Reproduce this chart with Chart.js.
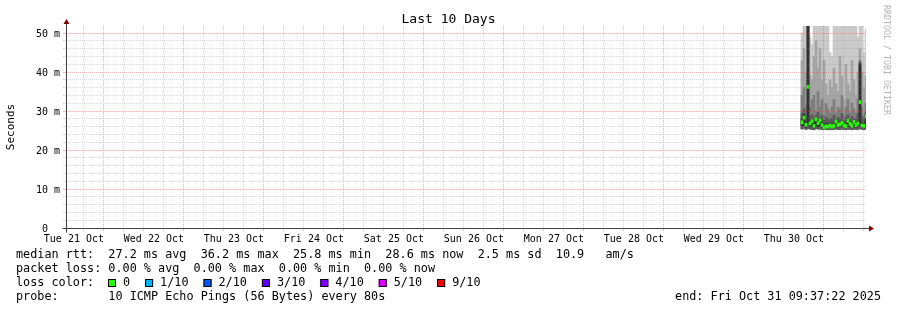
<!DOCTYPE html>
<html>
<head>
<meta charset="utf-8">
<script src="https://cdn.jsdelivr.net/npm/chart.js@4.4.0/dist/chart.umd.min.js"></script>
<style>
  html, body { margin: 0; padding: 0; background: #fff; }
  canvas { display: block; }
</style>
</head>
<body>
<canvas id="smokeChart" width="897" height="310"></canvas>
<script>
// time axis: hours since Tue 21 Oct 09:37:22, graph covers 10 days
const rangeHours = 240;
const firstNoonHour = 2.3772;
const firstColumnHour = 220.8;
const columnStep = 0.6;

const dayLabels = ['Tue 21 Oct', 'Wed 22 Oct', 'Thu 23 Oct', 'Fri 24 Oct', 'Sat 25 Oct',
                   'Sun 26 Oct', 'Mon 27 Oct', 'Tue 28 Oct', 'Wed 29 Oct', 'Thu 30 Oct'];

// rtt in ms, one value per column (sorted pings -> smoke bands)
const pingLowest = [25.4, 25.6, 25.3, 25.5, 25.4, 25.3, 25.2, 25.5, 25.4, 25.4, 25.3, 25.2, 25.3, 25.2, 25.3, 25.2, 25.3,
                    25.4, 25.3, 25.3, 25.4, 25.3, 25.2, 25.4, 25.3, 25.2, 25.4, 25.3, 25.3, 25.5, 25.3, 25.2, 25.5];
const pingLow = [26.2, 26.4, 25.9, 26.5, 26.0, 26.1, 25.8, 26.3, 26.0, 26.2, 25.9, 25.6, 25.8, 25.7, 25.9, 25.7, 25.8,
                 26.1, 25.9, 26.0, 26.1, 25.9, 25.8, 26.2, 26.0, 25.8, 26.1, 25.9, 26.0, 26.6, 25.9, 25.8, 26.3];
const ping6 = [28.0, 29.2, 27.2, 55, 27.4, 27.9, 27.0, 28.3, 27.7, 28.0, 27.1, 26.5, 26.8, 26.7, 26.9, 26.6, 26.8,
               27.7, 27.0, 27.2, 27.5, 26.9, 26.7, 27.9, 27.2, 26.8, 27.6, 27.0, 27.3, 42.0, 26.9, 26.8, 29.0];
const ping7 = [29.5, 30.5, 28.2, 55, 28.3, 29, 28.2, 28.8, 29.6, 28.3, 28.8, 27.6, 28.4, 27.9, 27.8, 28.2, 28.9,
               27.8, 28.4, 28.0, 29.3, 27.6, 28.3, 29.0, 27.8, 28.6, 27.9, 28.1, 29.4, 42.5, 28.5, 27.7, 29.6];
const ping8 = [34, 36, 31.5, 55, 31, 33, 34, 30, 35, 31, 33, 29, 32, 30.5, 29.5, 31, 33,
               29.5, 31, 30.5, 34, 29, 31, 33, 29.5, 32, 30.5, 29.5, 33, 43, 31, 29, 32];
const ping9 = [43, 46, 40, 55, 39, 38, 44, 48, 41, 46, 38, 43, 37, 34, 38, 36, 41,
               37, 35, 44, 39, 33, 42, 37, 35, 43, 38, 34, 40, 46, 40, 36, 39];
const pingHighest = [50, 55, 55, 55, 49, 47, 55, 55, 55, 55, 55, 55, 55, 55, 45, 44, 55,
                     55, 55, 55, 55, 55, 55, 55, 55, 55, 55, 55, 49, 55, 55, 45, 51];
const medianRtt = [27.1, 28.3, 26.5, 36.2, 26.8, 27.4, 26.2, 27.9, 26.9, 27.6, 26.4, 25.8, 26.1, 26.0, 26.3, 26.0, 26.2,
                   27.3, 26.4, 26.6, 27.0, 26.3, 26.1, 27.5, 26.7, 26.2, 27.2, 26.4, 26.8, 32.3, 26.3, 26.2, 28.6];

const lossLabels = ['0', '1/10', '2/10', '3/10', '4/10', '5/10', '9/10'];
const lossColors = ['#26ff00', '#00b8ff', '#0059ff', '#5e00ff', '#7e00ff', '#dd00ff', '#ff0000'];

const rttLine = 'median rtt:  27.2 ms avg  36.2 ms max  25.8 ms min  28.6 ms now  2.5 ms sd  10.9   am/s';
const lossLine = 'packet loss: 0.00 % avg  0.00 % max  0.00 % min  0.00 % now';
const probeLine = 'probe:       10 ICMP Echo Pings (56 Bytes) every 80s';
const endLine = 'end: Fri Oct 31 09:37:22 2025';

const MONO = '"DejaVu Sans Mono", monospace';
const GRID = 'rgba(140,140,140,0.32)';
const MGRID = 'rgba(210,70,70,0.4)';

const colTimes = medianRtt.map((_, i) => firstColumnHour + i * columnStep);
const range = (lo, hi) => colTimes.map((t, i) => ({ x: t, y: [lo[i], hi[i]] }));

const smokeBands = [
    { color: '#cacaca', lo: pingLowest, hi: pingHighest },
    { color: '#a4a4a4', lo: pingLowest, hi: ping9 },
    { color: '#7e7e7e', lo: pingLowest, hi: ping8 },
    { color: '#585858', lo: pingLowest, hi: ping7 },
    { color: '#323232', lo: pingLow, hi: ping6 }
];

const datasets = [{
    label: 'median',
    data: colTimes.map((t, i) => ({ x: t, y: [medianRtt[i] - 0.4, medianRtt[i] + 0.4] })),
    backgroundColor: lossColors[0]
}];
// drawn last-first, so darker bands go first in the list
smokeBands.slice().reverse().forEach(b => {
    datasets.push({ label: 'smoke', data: range(b.lo, b.hi), backgroundColor: b.color });
});
datasets.forEach(d => {
    d.grouped = false;
    d.borderWidth = 0;
    d.barPercentage = 1;
    d.categoryPercentage = 1;
});

const isMidnight = v => Math.abs(((v - firstNoonHour - 12) % 24 + 24) % 24) < 0.01;
const isNoon = v => Math.abs(((v - firstNoonHour) % 24 + 24) % 24) < 0.01;

const rrdDecor = {
    id: 'rrdDecor',
    afterDraw(chart) {
        const ctx = chart.ctx;
        const xs = chart.scales.x, ys = chart.scales.y;
        const x0 = Math.round(xs.getPixelForValue(0)) + 0.5;
        const y0 = Math.round(ys.getPixelForValue(0)) + 0.5;
        const xEnd = Math.round(xs.getPixelForValue(rangeHours));
        const yTop = Math.round(ys.getPixelForValue(ys.max));

        ctx.save();
        // axes
        ctx.strokeStyle = '#404040';
        ctx.lineWidth = 1;
        ctx.beginPath();
        ctx.moveTo(x0 - 4, y0);
        ctx.lineTo(xEnd + 4, y0);
        ctx.moveTo(x0, y0 + 4);
        ctx.lineTo(x0, yTop - 3);
        ctx.stroke();
        // arrows
        ctx.fillStyle = '#7f0000';
        ctx.beginPath();
        ctx.moveTo(xEnd + 3, y0 - 3);
        ctx.lineTo(xEnd + 8, y0);
        ctx.lineTo(xEnd + 3, y0 + 3);
        ctx.closePath();
        ctx.fill();
        ctx.beginPath();
        ctx.moveTo(x0 - 3, yTop - 2);
        ctx.lineTo(x0, yTop - 7);
        ctx.lineTo(x0 + 3, yTop - 2);
        ctx.closePath();
        ctx.fill();

        // title
        ctx.fillStyle = '#000';
        ctx.font = '13px ' + MONO;
        ctx.textAlign = 'center';
        ctx.textBaseline = 'middle';
        ctx.fillText('Last 10 Days', chart.width / 2, 20);

        // y title
        ctx.save();
        ctx.translate(11, (chart.chartArea.top + chart.chartArea.bottom) / 2);
        ctx.rotate(-Math.PI / 2);
        ctx.font = '11px ' + MONO;
        ctx.fillText('Seconds', 0, 0);
        ctx.restore();

        // watermark
        ctx.save();
        ctx.translate(886, 60);
        ctx.rotate(Math.PI / 2);
        ctx.fillStyle = '#b4b4b4';
        ctx.font = '8.3px ' + MONO;
        ctx.fillText('RRDTOOL / TOBI OETIKER', 0, 0);
        ctx.restore();

        // legend
        ctx.font = '11.8px ' + MONO;
        ctx.textAlign = 'left';
        ctx.fillStyle = '#000';
        ctx.fillText(rttLine, 16, 255);
        ctx.fillText(lossLine, 16, 269);
        ctx.fillText('loss color:', 16, 283);
        let bx = 108;
        lossLabels.forEach((lab, i) => {
            ctx.fillStyle = lossColors[i];
            ctx.fillRect(bx, 279, 8, 8);
            ctx.strokeStyle = '#000';
            ctx.strokeRect(bx + 0.5, 279.5, 7, 7);
            ctx.fillStyle = '#000';
            ctx.fillText(lab, bx + 15, 283);
            bx += 15 + ctx.measureText(lab).width + 15;
        });
        ctx.fillText(probeLine, 16, 297);
        ctx.textAlign = 'right';
        ctx.fillText(endLine, 881, 297);
        ctx.restore();
    }
};

new Chart(document.getElementById('smokeChart'), {
    type: 'bar',
    data: { datasets },
    plugins: [rrdDecor],
    options: {
        responsive: false,
        animation: false,
        layout: { padding: { left: 0, right: 31, top: 26, bottom: 62 } },
        plugins: { legend: { display: false }, tooltip: { enabled: false } },
        scales: {
            x: {
                type: 'linear',
                min: 0,
                max: rangeHours,
                offset: false,
                afterBuildTicks: s => {
                    const t = [];
                    for (let v = firstNoonHour; v < rangeHours; v += 6) t.push({ value: v });
                    s.ticks = t;
                },
                afterFit: s => { s.height = 20; },
                grid: {
                    z: 1,
                    color: c => (c.tick && isMidnight(c.tick.value)) ? MGRID : GRID,
                    tickColor: c => (c.tick && isMidnight(c.tick.value)) ? MGRID : GRID,
                    tickLength: 3
                },
                border: { display: false, dash: [1, 1] },
                ticks: {
                    autoSkip: false,
                    maxRotation: 0,
                    padding: 2,
                    color: '#000',
                    font: { family: MONO, size: 10 },
                    callback: v => isNoon(v) ? dayLabels[Math.round((v - firstNoonHour) / 24)] : ''
                }
            },
            y: {
                min: 0,
                max: 51.8,
                afterBuildTicks: s => {
                    const t = [];
                    for (let v = 0; v <= 50; v += 2) t.push({ value: v });
                    s.ticks = t;
                },
                afterFit: s => { s.width = 66; },
                grid: {
                    z: 1,
                    color: c => (c.tick && c.tick.value % 10 === 0) ? MGRID : GRID,
                    tickColor: c => (c.tick && c.tick.value % 10 === 0) ? MGRID : GRID,
                    tickLength: 3
                },
                border: { display: false, dash: [1, 1] },
                ticks: {
                    autoSkip: false,
                    padding: 3,
                    labelOffset: 1,
                    color: '#000',
                    font: { family: MONO, size: 10 },
                    callback: v => v % 10 === 0 ? (v === 0 ? '0  ' : v + ' m') : ''
                }
            }
        }
    }
});
</script>
</body>
</html>
